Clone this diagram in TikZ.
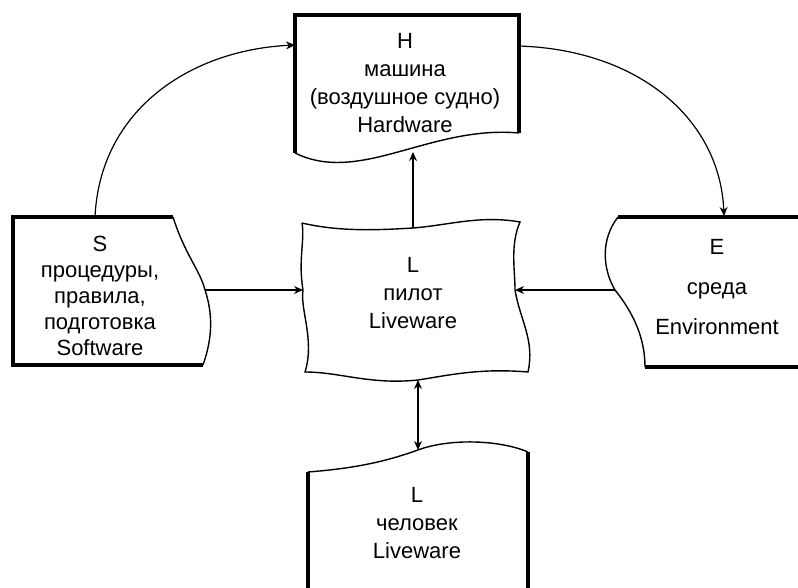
\documentclass[tikz,border=0pt]{standalone}
\usepackage{fontspec}
\setmainfont{Liberation Sans}
\usepackage{tikz}
\usetikzlibrary{arrows.meta}
\tikzset{
    myarrow/.style={-{Stealth[length=4.5pt,width=4pt]}, line width=0.6pt},
    botharrow/.style={{Stealth[length=4.5pt,width=4pt]}-{Stealth[length=4.5pt,width=4pt]}, line width=0.6pt},
    thickedge/.style={line width=2.4pt, line join=miter},
    thinedge/.style={line width=0.7pt},
    boxtext/.style={font=\fontsize{11}{13}\selectfont, align=center, inner sep=0pt}
}

\begin{document}
\begin{tikzpicture}[x=0.5pt, y=-0.5pt]
    \useasboundingbox (0,0) rectangle (798,588);
    % H box
    \draw [thickedge] (295,153) -- (295,15) -- (519,15) -- (519,133);
    \draw [thinedge] (295,153) .. controls (360,185) and (430,125) .. (519,133);
    \node (hw) [boxtext] at (405,83) {H\\[1pt] машина\\[1pt] (воздушное судно)\\[1pt] Hardware};
    % S box
    \draw [thickedge] (203,365) -- (13,365) -- (13,217) -- (173,217);
    \draw [thinedge] (173,217) .. controls (185,255) and (200,270) .. (205,290)
        .. controls (215,320) and (210,345) .. (203,365);
    \node (sw) [boxtext] at (100,296) {S\\ процедуры,\\ правила,\\ подготовка\\ Software};
    % E box
    \draw [thickedge] (618,217) -- (798,217);
    \draw [thickedge] (645,367) -- (798,367);
    \draw [thinedge] (618,217) .. controls (600,240) and (603,270) .. (615,290)
        .. controls (635,315) and (645,340) .. (645,367);
    \node (env) [boxtext] at (717,287) {E\\[7pt] среда\\[7pt] Environment};
    % L pilot
    \draw [thinedge] (302,223) .. controls (340,232) and (380,230) .. (413,228)
        .. controls (450,225) and (480,215) .. (520,222)
        .. controls (510,245) and (515,270) .. (515,290)
        .. controls (520,320) and (535,340) .. (528,372)
        .. controls (480,368) and (450,375) .. (418,380)
        .. controls (370,385) and (340,372) .. (305,372)
        .. controls (315,340) and (300,310) .. (303,290)
        .. controls (298,260) and (305,240) .. (302,223);
    \node (lp) [boxtext] at (413,293) {L\\[1pt] пилот\\[1pt] Liveware};
    % L human
    \draw [thickedge] (308,588) -- (308,472);
    \draw [thinedge] (308,472) .. controls (360,468) and (390,460) .. (418,450)
        .. controls (450,438) and (500,440) .. (528,452);
    \draw [thickedge] (528,452) -- (528,588);
    \node (lh) [boxtext] at (417,523) {L\\[1pt] человек\\[1pt] Liveware};
    % connectors
    \coordinate (stop) at (95,217);
    \coordinate (hleft) at (295,45);
    \coordinate (hright) at (519,46);
    \coordinate (etop) at (724,216);
    \coordinate (hbot) at (413,152);
    \coordinate (ltop) at (413,228);
    \coordinate (sright) at (205,290);
    \coordinate (lleft) at (303,290);
    \coordinate (eleft) at (615,290);
    \coordinate (lright) at (515,290);
    \coordinate (lbot) at (418,380);
    \coordinate (htop) at (418,450);
    \draw [myarrow] (stop) .. controls (100,110) and (190,50) .. (hleft);
    \draw [myarrow] (hright) .. controls (640,50) and (720,120) .. (etop);
    \draw [myarrow] (ltop) -- (hbot);
    \draw [myarrow] (sright) -- (lleft);
    \draw [myarrow] (eleft) -- (lright);
    \draw [botharrow] (lbot) -- (htop);
\end{tikzpicture}
\end{document}
